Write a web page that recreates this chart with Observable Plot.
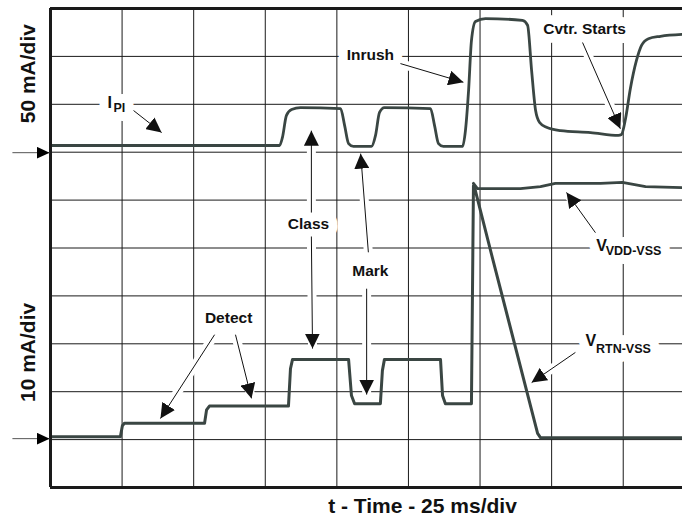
<!DOCTYPE html>
<html><head><meta charset="utf-8">
<script src="https://cdn.jsdelivr.net/npm/d3@7"></script>
<script src="https://cdn.jsdelivr.net/npm/@observablehq/plot@0.6"></script>
<style>body{margin:0;background:#fff}#chart svg{display:block}</style>
</head><body><div id="chart"></div>
<script>
// time in ms (25 ms/div), vertical position in screen divisions (0..10)
const XMAX = 220.7;                       // visible time span (ms)
const gridT = [25, 50, 75, 100, 125, 150, 175, 200];
const gridDiv = [1, 2, 3, 4, 5, 6, 7, 8, 9];

// I_PI upper trace (50 mA/div, zero marker at div 7)
const ipiT = [0.3, 80.0, 81.0, 82.4, 84.2, 87.3, 101.3, 102.7, 104.1, 105.8, 112.1, 113.5, 114.9, 116.6, 132.7, 134.1, 135.5, 137.2, 143.9, 144.9, 146.0, 147.0, 148.4, 151.9, 164.8, 166.6, 168.0, 169.4, 170.8, 173.2, 178.1, 188.6, 198.3, 199.4, 200.8, 202.5, 204.6, 206.4, 208.8, 213.0, 220.7];
const ipiY = [7.14, 7.14, 7.31, 7.77, 7.89, 7.93, 7.91, 7.56, 7.18, 7.12, 7.12, 7.35, 7.83, 7.93, 7.91, 7.56, 7.18, 7.12, 7.12, 7.45, 8.29, 9.33, 9.73, 9.79, 9.75, 9.65, 8.71, 7.87, 7.62, 7.52, 7.45, 7.41, 7.35, 7.37, 7.70, 8.33, 8.91, 9.23, 9.37, 9.42, 9.46];

// lower trace (10 mA/div, zero marker at div 1) continuing as V_RTN-VSS
const lowT = [0.3, 24.4, 25.1, 25.8, 53.8, 54.5, 55.5, 83.1, 83.8, 84.5, 104.1, 105.1, 106.2, 115.2, 115.9, 116.6, 136.2, 136.9, 137.9, 147.0, 147.7, 148.1, 154.3, 170.1, 171.1, 220.7];
const lowY = [1.06, 1.06, 1.29, 1.34, 1.34, 1.62, 1.70, 1.70, 2.48, 2.67, 2.67, 1.92, 1.75, 1.75, 2.44, 2.67, 2.67, 1.92, 1.75, 1.75, 6.30, 6.26, 4.80, 1.13, 1.04, 1.04];

// V_VDD-VSS trace
const vddT = [147.7, 149.1, 164.1, 171.1, 176.3, 192.1, 199.7, 207.8, 220.7];
const vddY = [6.35, 6.24, 6.24, 6.28, 6.35, 6.35, 6.37, 6.28, 6.26];

// annotations
const labelText = ["Class", "Mark", "Detect", "Inrush", "Cvtr. Starts"];
const labelT = [90.1, 111.7, 62.2, 111.7, 186.5];
const labelY = [5.51, 4.51, 3.53, 9.02, 9.58];

const symText = ["I", "V", "V"];
const symT = [19.9, 190.6, 186.8];
const symY = [8.02, 5.05, 3.07];
const subText = ["PI", "VDD-VSS", "RTN-VSS"];
const subT = [22.0, 193.9, 190.5];
const subY = [7.93, 4.93, 2.90];

const arrowT1 = [29.0, 91.1, 91.1, 111.0, 110.4, 57.3, 64.6, 122.2, 185.8, 190.3, 183.3];
const arrowY1 = [7.87, 5.74, 5.24, 4.91, 4.15, 3.19, 3.19, 8.85, 9.29, 5.32, 2.82];
const arrowT2 = [38.8, 91.1, 91.5, 108.3, 110.4, 38.4, 70.2, 144.2, 199.0, 180.2, 168.0];
const arrowY2 = [7.41, 7.45, 2.90, 6.97, 1.94, 1.44, 1.86, 8.46, 7.49, 6.16, 2.19];

// ground reference markers at left
const refY = [6.99, 1.02];
const refStartT = -13.3;
const refEndT = -0.3;

const unitText = ["50 mA/div", "10 mA/div"];
const unitY = [8.64, 2.82];
const unitT = -7.7;

const xTitle = "t - Time - 25 ms/div";
const xTitleT = 129.9;
const xTitleY = -0.40;

// tables
const ipi = ipiT.map((t, i) => ({t, y: ipiY[i]}));
const low = lowT.map((t, i) => ({t, y: lowY[i]}));
const vdd = vddT.map((t, i) => ({t, y: vddY[i]}));
const labels = labelText.map((text, i) => ({text, t: labelT[i], y: labelY[i]}));
const syms = symText.map((text, i) => ({text, t: symT[i], y: symY[i]}));
const subs = subText.map((text, i) => ({text, t: subT[i], y: subY[i]}));
const arrows = arrowT1.map((t1, i) => ({t1, y1: arrowY1[i], t2: arrowT2[i], y2: arrowY2[i]}));
const refs = refY.map(y => ({t1: refStartT, t2: refEndT, y}));
const units = unitText.map((text, i) => ({text, t: unitT, y: unitY[i]}));

const FONT = "'Liberation Sans', Arial, Helvetica, sans-serif";
const TRACE = "#3a4643";

function headMarker(len, wid, fill) {
  return (color) => {
    const m = d3.create("svg:marker")
      .attr("viewBox", `0 ${-wid / 2} ${len} ${wid}`)
      .attr("markerWidth", len)
      .attr("markerHeight", wid)
      .attr("refX", len)
      .attr("refY", 0)
      .attr("orient", "auto")
      .attr("markerUnits", "userSpaceOnUse");
    m.append("path")
      .attr("d", `M0,${-wid / 2}L${len},0L0,${wid / 2}Z`)
      .attr("fill", fill || color)
      .attr("stroke", "none");
    return m.node();
  };
}

function build(bigHead, smallHead) {
  return Plot.plot({
    width: 682, height: 519,
    marginLeft: 50, marginRight: 0, marginTop: 8, marginBottom: 32,
    x: {domain: [0, XMAX], axis: null},
    y: {domain: [0, 10], axis: null},
    style: {fontFamily: FONT, background: "white"},
    marks: [
      // grid
      Plot.ruleX(gridT, {stroke: "#1a1a1a", strokeWidth: 1}),
      Plot.ruleY(gridDiv, {stroke: "#1a1a1a", strokeWidth: 1}),
      // white halos behind annotations
      Plot.link(arrows, {x1: "t1", y1: "y1", x2: "t2", y2: "y2", stroke: "white", strokeWidth: 9}),
      Plot.text(labels, {x: "t", y: "y", text: "text", fontSize: 15.5, fontWeight: "bold", fill: "white", stroke: "white", strokeWidth: 18, strokeLinejoin: "round"}),
      Plot.text(syms, {x: "t", y: "y", text: "text", textAnchor: "start", fontSize: 16, fontWeight: "bold", fill: "white", stroke: "white", strokeWidth: 18, strokeLinejoin: "round"}),
      Plot.text(subs, {x: "t", y: "y", text: "text", textAnchor: "start", fontSize: 12.5, fontWeight: "bold", fill: "white", stroke: "white", strokeWidth: 18, strokeLinejoin: "round"}),
      // traces
      Plot.line(ipi, {x: "t", y: "y", stroke: TRACE, strokeWidth: 2.8, curve: "monotone-x"}),
      Plot.line(vdd, {x: "t", y: "y", stroke: TRACE, strokeWidth: 2.8}),
      Plot.line(low, {x: "t", y: "y", stroke: TRACE, strokeWidth: 3}),
      // frame (left, top, bottom)
      Plot.ruleX([0], {stroke: "#1a1a1a", strokeWidth: 3}),
      Plot.ruleY([0, 10], {stroke: "#1a1a1a", strokeWidth: 3}),
      // ground reference arrows
      Plot.link(refs, {x1: "t1", x2: "t2", y1: "y", y2: "y", stroke: "#555", strokeWidth: 1, markerEnd: smallHead}),
      // annotation arrows
      Plot.link(arrows, {x1: "t1", y1: "y1", x2: "t2", y2: "y2", stroke: "#111", strokeWidth: 1, markerEnd: bigHead}),
      // texts
      Plot.text(labels, {x: "t", y: "y", text: "text", fontSize: 15.5, fontWeight: "bold", fill: "#111"}),
      Plot.text(syms, {x: "t", y: "y", text: "text", textAnchor: "start", fontSize: 16, fontWeight: "bold", fill: "#111"}),
      Plot.text(subs, {x: "t", y: "y", text: "text", textAnchor: "start", fontSize: 12.5, fontWeight: "bold", fill: "#111"}),
      Plot.text(units, {x: "t", y: "y", text: "text", rotate: -90, fontSize: 21, fontWeight: "bold", fill: "#111"}),
      Plot.text([xTitle], {x: () => xTitleT, y: () => xTitleY, text: d => d, fontSize: 21, fontWeight: "bold", fill: "#111"})
    ]
  });
}

let plot;
try {
  plot = build(headMarker(15, 15), headMarker(13, 12, "#000"));
} catch (e) {
  console.error(e);
  plot = build("arrow", "arrow");
}
document.getElementById("chart").append(plot);
</script>
</body></html>
